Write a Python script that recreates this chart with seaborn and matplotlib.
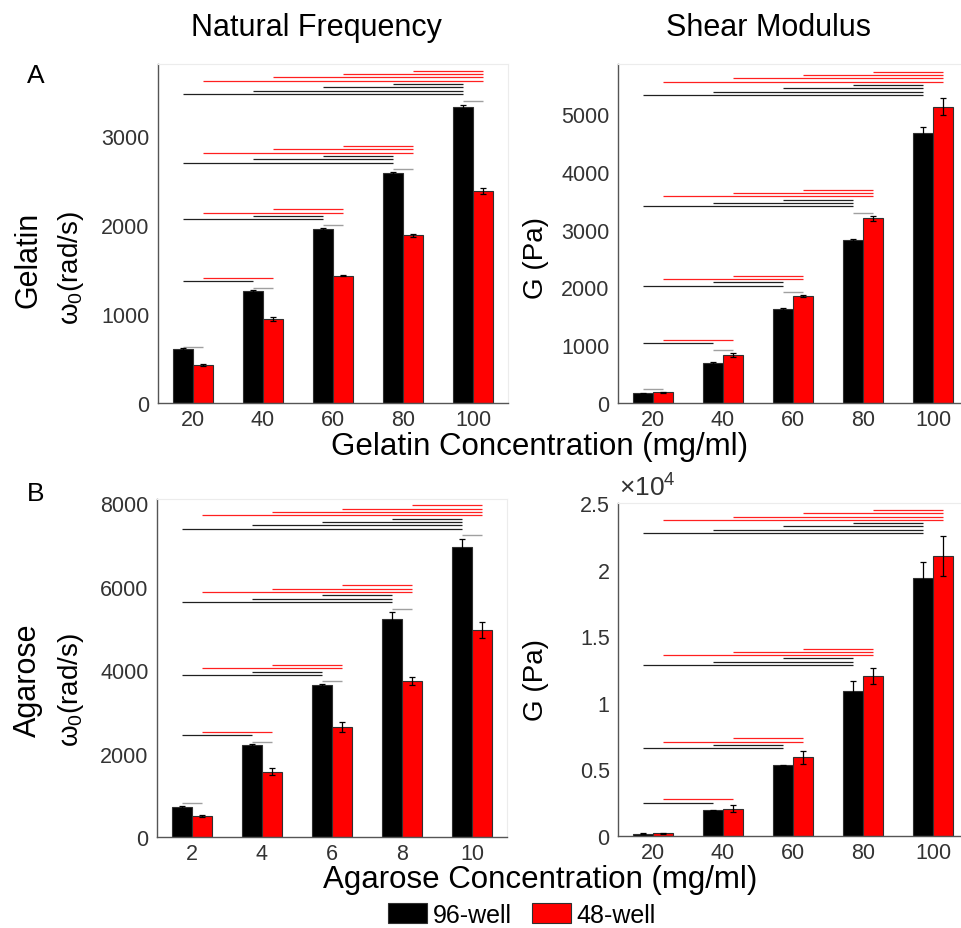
import numpy as np
import pandas as pd
import matplotlib
matplotlib.use("Agg")
import matplotlib.pyplot as plt
import seaborn as sns
from matplotlib.ticker import FuncFormatter
from matplotlib.patches import Patch

sns.set_theme(style="white")
plt.rcParams['font.family'] = ['Liberation Sans', 'DejaVu Sans']
plt.rcParams['mathtext.fontset'] = 'custom'
plt.rcParams['mathtext.rm'] = 'Liberation Sans'
plt.rcParams['mathtext.it'] = 'Liberation Sans:italic'
plt.rcParams['text.color'] = 'black'

# ---------------- data ----------------
wells = ["96-well", "48-well"]
gel_conc = ["20", "40", "60", "80", "100"]
aga_conc = ["2", "4", "6", "8", "10"]

# Gelatin - natural frequency (rad/s)
gel_w_96 = [605, 1259, 1958, 2582, 3322]
gel_w_48 = [428, 947, 1432, 1883, 2382]
gel_w_96_err = [10, 15, 10, 15, 30]
gel_w_48_err = [10, 20, 10, 15, 30]
gel_w_pair = [635, 1296, 1995, 2627, 3397]
gel_w_sig = [1368, 2063, 2702, 3472]

# Gelatin - shear modulus (Pa)
gel_g_96 = [168, 687, 1626, 2820, 4671]
gel_g_48 = [185, 830, 1846, 3195, 5126]
gel_g_96_err = [10, 15, 15, 20, 110]
gel_g_48_err = [10, 40, 20, 40, 150]
gel_g_pair = [242, 922, 1915, 3287, np.nan]
gel_g_sig = [1032, 2030, 3403, 5329]

# Agarose - natural frequency (rad/s)
aga_w_96 = [726, 2204, 3641, 5222, 6938]
aga_w_48 = [510, 1565, 2635, 3744, 4958]
aga_w_96_err = [20, 30, 30, 175, 215]
aga_w_48_err = [20, 80, 120, 90, 185]
aga_w_pair = [805, 2283, 3737, 5460, 7249]
aga_w_sig = [2443, 3880, 5636, 7393]

# Agarose - shear modulus (Pa)
aga_g_96 = [170, 1920, 5296, 10920, 19350]
aga_g_48 = [200, 2048, 5896, 12020, 21020]
aga_g_96_err = [50, 50, 50, 750, 1250]
aga_g_48_err = [50, 250, 500, 600, 1480]
aga_g_pair = [np.nan] * 5
aga_g_sig = [2497, 6600, 12850, 22750]

ylim_tops = [3810, 5865, 8100, 25000]
gel_w_ticks = [0, 1000, 2000, 3000]
gel_g_ticks = [0, 1000, 2000, 3000, 4000, 5000]
aga_w_ticks = [0, 2000, 4000, 6000, 8000]
aga_g_ticks = [0, 5000, 10000, 15000, 20000, 25000]

colors = {"96-well": "#000000", "48-well": "#ff0000"}

W, H = 962, 929
fig = plt.figure(figsize=(W / 100, H / 100), dpi=100)


def add_ax(l, r, t, b):
    return fig.add_axes([l / W, 1 - b / H, (r - l) / W, (b - t) / H])


def panel(ax, conc, v96, v48, e96, e48, pair, sig, ytop, yticks, fmt=None):
    df = pd.DataFrame({
        "conc": conc + conc,
        "well": [wells[0]] * len(conc) + [wells[1]] * len(conc),
        "val": list(v96) + list(v48),
    })
    sns.barplot(data=df, x="conc", y="val", hue="well", hue_order=wells,
                order=conc, palette=colors, width=0.57, errorbar=None,
                edgecolor="#303030", linewidth=0.8, saturation=1,
                legend=False, ax=ax)
    xb = [p.get_x() + p.get_width() / 2 for p in ax.containers[0]]
    xr = [p.get_x() + p.get_width() / 2 for p in ax.containers[1]]
    ax.errorbar(xb, v96, yerr=e96, fmt="none", ecolor="black",
                elinewidth=0.9, capsize=2.2, capthick=0.9, zorder=5)
    ax.errorbar(xr, v48, yerr=e48, fmt="none", ecolor="black",
                elinewidth=0.9, capsize=2.2, capthick=0.9, zorder=5)
    # pair comparison lines (gray)
    for i, h in enumerate(pair):
        if not np.isnan(h):
            ax.plot([xb[i], xr[i]], [h, h], color="#a0a0a0", lw=1.0,
                    solid_capstyle="butt")
    # significance lines
    step = 0.0098 * ytop
    for k in range(1, len(conc)):
        base = sig[k - 1]
        n = 0
        for j in range(k):
            y = base + n * step
            ax.plot([xb[j], xb[k]], [y, y], color="#202020", lw=0.9,
                    solid_capstyle="butt")
            n += 1
        for j in range(k):
            y = base + n * step
            ax.plot([xr[j], xr[k]], [y, y], color="#ff2020", lw=0.9,
                    solid_capstyle="butt")
            n += 1
    ax.set_xlim(-0.5, len(conc) - 0.5)
    ax.set_ylim(0, ytop)
    ax.set_yticks(yticks)
    if fmt is not None:
        ax.yaxis.set_major_formatter(fmt)
    ax.set_xlabel("")
    ax.set_ylabel("")
    ax.tick_params(axis="both", length=0, labelsize=15.5,
                   labelcolor="#333333")
    ax.tick_params(axis="y", pad=6)
    ax.tick_params(axis="x", pad=4)
    for s in ["left", "bottom"]:
        ax.spines[s].set_color("#555555")
        ax.spines[s].set_linewidth(1.0)
    for s in ["top", "right"]:
        ax.spines[s].set_color("#ececec")
        ax.spines[s].set_linewidth(0.8)
    ax.set_facecolor("white")


ax1 = add_ax(158, 508, 65, 404)
ax2 = add_ax(618, 968, 65, 404)
ax3 = add_ax(157, 507, 500, 838)
ax4 = add_ax(618, 968, 504, 837)

panel(ax1, gel_conc, gel_w_96, gel_w_48, gel_w_96_err, gel_w_48_err,
      gel_w_pair, gel_w_sig, ylim_tops[0], gel_w_ticks)
panel(ax2, gel_conc, gel_g_96, gel_g_48, gel_g_96_err, gel_g_48_err,
      gel_g_pair, gel_g_sig, ylim_tops[1], gel_g_ticks)
panel(ax3, aga_conc, aga_w_96, aga_w_48, aga_w_96_err, aga_w_48_err,
      aga_w_pair, aga_w_sig, ylim_tops[2], aga_w_ticks)
panel(ax4, gel_conc, aga_g_96, aga_g_48, aga_g_96_err, aga_g_48_err,
      aga_g_pair, aga_g_sig, ylim_tops[3], aga_g_ticks,
      fmt=FuncFormatter(lambda v, p: "%g" % (v / 1e4)))


def ftext(x, y, s, **kw):
    fig.text(x / W, 1 - y / H, s, ha="center", va="center", **kw)


ftext(316, 28, "Natural Frequency", fontsize=22)
ftext(768, 28, "Shear Modulus", fontsize=22)
ftext(36, 76, "A", fontsize=19)
ftext(36, 494, "B", fontsize=19)
ftext(28, 260, "Gelatin", fontsize=22, rotation=90)
ftext(28, 680, "Agarose", fontsize=22, rotation=90)
wlab = r"$\mathrm{\omega_0}$(rad/s)"
ftext(71, 268, wlab, fontsize=20, rotation=90)
ftext(71, 690, wlab, fontsize=20, rotation=90)
ftext(536, 258, "G (Pa)", fontsize=20, rotation=90)
ftext(536, 680, "G (Pa)", fontsize=20, rotation=90)
ftext(540, 447, "Gelatin Concentration (mg/ml)", fontsize=22.5)
ftext(540, 880, "Agarose Concentration (mg/ml)", fontsize=22.5)
fig.text(619 / W, 1 - 488 / H, r"$\times10^4$", ha="left", va="center",
         fontsize=19, color="#333333")

handles = [Patch(facecolor=colors[w], edgecolor="#303030", linewidth=0.8,
                 label=w) for w in wells]
fig.legend(handles=handles, loc="center", bbox_to_anchor=(522 / W, 1 - 916 / H),
           ncol=2, frameon=False, fontsize=18, handlelength=1.55,
           handleheight=0.85, handletextpad=0.25, columnspacing=0.8)

fig.savefig("out.png", dpi=100)
